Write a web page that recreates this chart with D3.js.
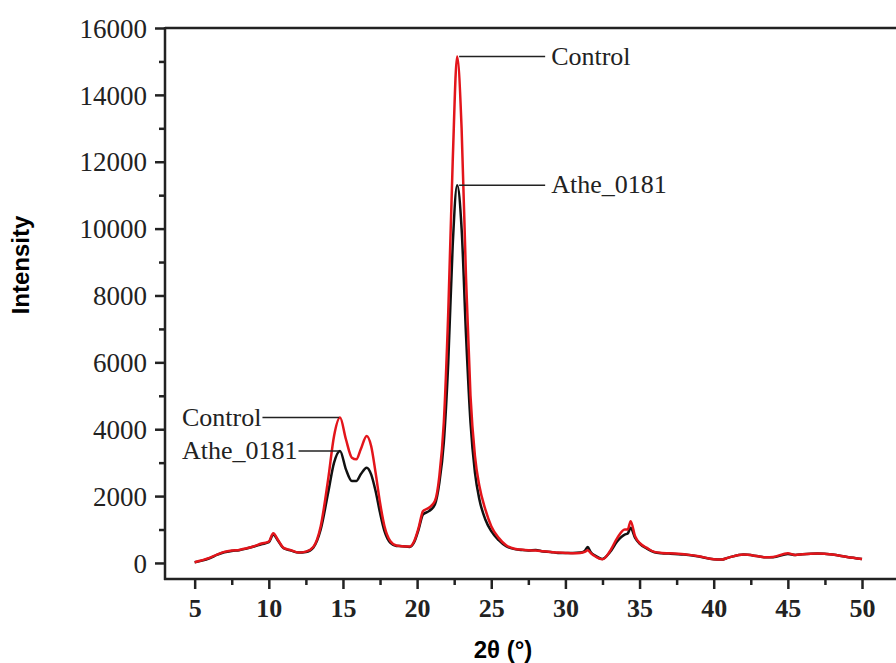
<!DOCTYPE html>
<html>
<head>
<meta charset="utf-8">
<script src="https://cdn.jsdelivr.net/npm/d3@7"></script>
<style>
    body { margin: 0; background: #fff; }
    svg { display: block; }
    .tick-y { font-family: 'Liberation Serif', serif; font-size: 27px; fill: #222; }
    .tick-x { font-family: 'Liberation Serif', serif; font-size: 26px; font-weight: bold; fill: #222; }
    .axis-title { font-family: 'Liberation Sans', Arial, sans-serif; font-size: 24px; font-weight: bold; fill: #000; }
    .note { font-family: 'Liberation Serif', serif; font-size: 26px; fill: #222; }
</style>
</head>
<body>
<div id="plot"></div>
<script>
'use strict';

// 2-theta positions (degrees)
const twoTheta = [
    5.0, 5.5, 6.0, 6.5, 7.0, 7.5, 8.0, 8.5, 9.0, 9.5, 10.0, 10.3, 10.6, 11.0, 11.5, 12.0, 12.5,
    13.0, 13.5, 14.0, 14.4, 14.8, 15.2, 15.6, 15.9, 16.2, 16.6, 16.9, 17.2, 17.5, 17.8, 18.2,
    18.6, 19.0, 19.5, 19.8, 20.1, 20.4, 20.8, 21.2, 21.5, 21.8, 22.1, 22.4, 22.7, 23.0, 23.3,
    23.6, 23.9, 24.2, 24.6, 25.0, 25.5, 26.0, 26.5, 27.0, 27.5, 28.0, 28.5, 29.0, 29.5, 30.0,
    30.5, 31.0, 31.3, 31.5, 31.7, 32.0, 32.5, 33.0, 33.5, 34.0, 34.2, 34.4, 34.7, 35.0, 35.5,
    36.0, 36.5, 37.0, 38.0, 39.0, 40.0, 40.5, 41.0, 42.0, 43.0, 43.5, 44.0, 45.0, 45.5, 46.0,
    47.0, 48.0, 49.0, 50.0
];

const control = [
    20, 80, 150, 250, 330, 370, 390, 440, 500, 580, 640, 890, 700, 450, 380, 310, 340,
    480, 1100, 2500, 3800, 4350, 3700, 3150, 3100, 3400, 3800, 3500, 2700, 1800, 1100, 650,
    520, 500, 490, 650, 1050, 1550, 1650, 1850, 2600, 4200, 7500, 12000, 15150, 13000, 8500,
    5000, 3200, 2300, 1600, 1100, 750, 530, 430, 400, 380, 370, 350, 330, 310, 300,
    290, 300, 330, 380, 300, 200, 110, 350, 750, 1000, 1000, 1250, 800, 600, 450,
    330, 300, 290, 260, 200, 110, 100, 160, 250, 200, 170, 180, 290, 240, 260,
    280, 250, 180, 120
];

const athe0181 = [
    20, 70, 140, 240, 320, 360, 380, 430, 490, 560, 620, 850, 680, 440, 370, 310, 330,
    460, 1000, 2100, 3000, 3350, 2800, 2450, 2450, 2650, 2850, 2650, 2150, 1500, 950, 600,
    510, 500, 480, 620, 1000, 1450, 1550, 1750, 2400, 3600, 6000, 9500, 11300, 10000, 6800,
    4200, 2700, 1900, 1300, 950, 680, 500, 420, 390, 370, 390, 340, 330, 300, 300,
    300, 310, 360, 480, 330, 220, 120, 320, 650, 850, 880, 1050, 750, 580, 430,
    320, 290, 280, 250, 190, 110, 100, 160, 250, 200, 170, 170, 270, 240, 260,
    280, 250, 180, 120
];

const yTicks = [0, 2000, 4000, 6000, 8000, 10000, 12000, 14000, 16000];
const xTicks = [5, 10, 15, 20, 25, 30, 35, 40, 45, 50];

// peak labels: text, peak position, which side the text sits on
const noteText = ['Control', 'Athe_0181', 'Control', 'Athe_0181'];
const noteX = [22.7, 22.7, 14.8, 14.8];
const noteY = [15150, 11300, 4350, 3350];
const noteSide = ['right', 'right', 'left', 'left'];

const svgWidth = 896,
    svgHeight = 663,
    plotLeft = 165,
    plotTop = 28,
    plotBottom = 579;

let svg = d3.select('#plot').append('svg')
    .attr('width', svgWidth)
    .attr('height', svgHeight);

let xScale = d3.scaleLinear().domain([3, 53]).range([plotLeft, plotLeft + 50 * 14.83]),
    yScale = d3.scaleLinear().domain([-480, 16000]).range([plotBottom, plotTop]);

// frame top edge (runs off the right side like the original)
svg.append('line')
    .attr('x1', plotLeft).attr('x2', svgWidth)
    .attr('y1', plotTop).attr('y2', plotTop)
    .attr('stroke', '#222').attr('stroke-width', 2.5);

// minor ticks
svg.append('g')
    .attr('transform', `translate(${plotLeft},0)`)
    .call(d3.axisLeft(yScale).tickValues(d3.range(1000, 16000, 2000)).tickSize(6).tickFormat('').tickSizeOuter(0))
    .call(g => g.select('.domain').remove())
    .selectAll('line').attr('stroke', '#222').attr('stroke-width', 2.5);

svg.append('g')
    .attr('transform', `translate(0,${plotBottom})`)
    .call(d3.axisBottom(xScale).tickValues(d3.range(7.5, 53, 5)).tickSize(6).tickFormat('').tickSizeOuter(0))
    .call(g => g.select('.domain').remove())
    .selectAll('line').attr('stroke', '#222').attr('stroke-width', 2.5);

// major axes
let yAxisG = svg.append('g')
    .attr('transform', `translate(${plotLeft},0)`)
    .call(d3.axisLeft(yScale).tickValues(yTicks).tickFormat(d3.format('d'))
        .tickSize(10).tickPadding(8).tickSizeOuter(0));

yAxisG.selectAll('text').attr('class', 'tick-y').attr('fill', null).attr('dy', '0.34em');

let xAxisG = svg.append('g')
    .attr('transform', `translate(0,${plotBottom})`)
    .call(d3.axisBottom(xScale).tickValues(xTicks).tickFormat(d3.format('d'))
        .tickSize(10).tickPadding(8).tickSizeOuter(0));

xAxisG.selectAll('text').attr('class', 'tick-x').attr('fill', null).attr('dy', '0.78em');

[yAxisG, xAxisG].forEach(g => {
    g.select('.domain').attr('stroke', '#222').attr('stroke-width', 2.5);
    g.selectAll('.tick line').attr('stroke', '#222').attr('stroke-width', 2.5);
});

// make the x axis line reach the right edge
xAxisG.select('.domain').attr('d', `M${plotLeft - 1},0H${svgWidth}`);
yAxisG.select('.domain').attr('d', `M0,${plotBottom + 1}V${plotTop - 1}`);

// axis titles
svg.append('text')
    .attr('class', 'axis-title')
    .attr('text-anchor', 'middle')
    .attr('transform', 'translate(29,265) rotate(-90)')
    .text('Intensity');

svg.append('text')
    .attr('class', 'axis-title')
    .attr('text-anchor', 'middle')
    .attr('x', 503)
    .attr('y', 658)
    .text('2θ (°)');

// curves
let line = d3.line()
    .x((d, i) => xScale(twoTheta[i]))
    .y(d => yScale(d))
    .curve(d3.curveMonotoneX);

svg.append('path')
    .datum(athe0181)
    .attr('fill', 'none')
    .attr('stroke', '#111')
    .attr('stroke-width', 2.5)
    .attr('stroke-linejoin', 'round')
    .attr('d', line);

svg.append('path')
    .datum(control)
    .attr('fill', 'none')
    .attr('stroke', '#e3151b')
    .attr('stroke-width', 2.5)
    .attr('stroke-linejoin', 'round')
    .attr('d', line);

// peak labels with leader lines
noteText.forEach((t, i) => {
    let px = xScale(noteX[i]),
        py = yScale(noteY[i]);

    if (noteSide[i] === 'right') {
        svg.append('line')
            .attr('x1', px + 2).attr('x2', px + 88)
            .attr('y1', py).attr('y2', py)
            .attr('stroke', '#222').attr('stroke-width', 1.5);
        svg.append('text')
            .attr('class', 'note')
            .attr('x', px + 94)
            .attr('y', py)
            .attr('dy', '0.32em')
            .text(t);
    } else {
        let label = svg.append('text')
            .attr('class', 'note')
            .attr('x', px - 158)
            .attr('y', py)
            .attr('dy', '0.32em')
            .text(t);
        let w = label.node().getComputedTextLength();
        svg.append('line')
            .attr('x1', px - 158 + w + 1).attr('x2', px - 1)
            .attr('y1', py).attr('y2', py)
            .attr('stroke', '#222').attr('stroke-width', 1.5);
    }
});
</script>
</body>
</html>
